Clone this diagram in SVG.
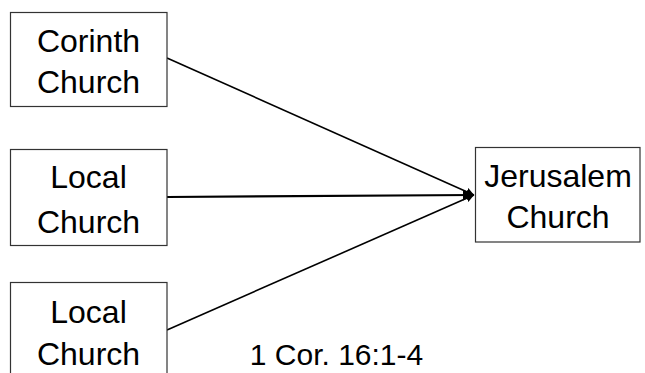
<svg xmlns="http://www.w3.org/2000/svg" width="645" height="373" viewBox="0 0 645 373">
<defs>
<style>
.box{fill:#fff;stroke:#333;stroke-width:1.2}
.t{font-family:"Liberation Sans",Arial,sans-serif;font-size:32px;fill:#000;text-anchor:middle}
.c{stroke:#000;stroke-width:1.6;fill:none;marker-end:url(#ah)}
</style>
<marker id="ah" viewBox="0 0 10 10" refX="10" refY="5" markerWidth="5" markerHeight="5" orient="auto" markerUnits="strokeWidth">
<path d="M0,0 L10,5 L0,10 z" fill="#000"/>
</marker>
</defs>
<rect width="645" height="373" fill="#fff"/>
<g id="connectors">
<line class="c" x1="167" y1="58" x2="474" y2="195"/>
<line class="c" x1="167" y1="197" x2="474" y2="195" style="stroke-width:2.2"/>
<line class="c" x1="167" y1="330" x2="474" y2="195"/>
</g>
<g id="corinth">
<rect class="box" x="10.5" y="12.5" width="156.5" height="94"/>
<text class="t" x="88.5" y="52">Corinth</text>
<text class="t" x="88.5" y="93">Church</text>
</g>
<g id="local1">
<rect class="box" x="10.5" y="149.5" width="156.5" height="96"/>
<text class="t" x="88.5" y="188">Local</text>
<text class="t" x="88.5" y="233">Church</text>
</g>
<g id="local2">
<rect class="box" x="10.5" y="282.5" width="156.5" height="100"/>
<text class="t" x="88.5" y="323">Local</text>
<text class="t" x="88.5" y="365">Church</text>
</g>
<g id="jerusalem">
<rect class="box" x="475.5" y="147.5" width="164.5" height="94.5"/>
<text class="t" x="558" y="187">Jerusalem</text>
<text class="t" x="558" y="228">Church</text>
</g>
<text class="t" x="336.5" y="365" style="font-size:30px">1 Cor. 16:1-4</text>
</svg>
